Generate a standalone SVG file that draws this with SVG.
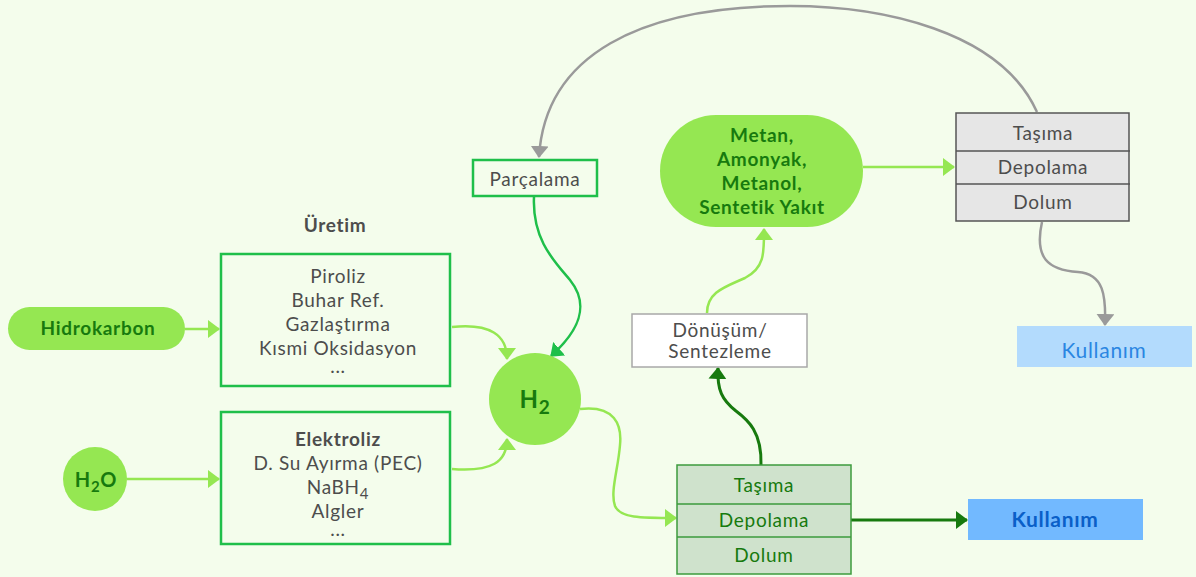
<svg xmlns="http://www.w3.org/2000/svg" width="1196" height="577" viewBox="0 0 1196 577">
<style>
text{font-family:Lato,"Open Sans","Liberation Sans",sans-serif;text-anchor:middle;letter-spacing:0.7px;font-size:19px}
.t{fill:#4d4d4d}
.b{font-weight:bold}
.dg{fill:#177a0e}
.gbox{fill:#f4fdec;stroke:#1fbf4a;stroke-width:2.5}
.lg{fill:none;stroke:#95e752;stroke-width:2.5}
.mg{fill:none;stroke:#1fbf4a;stroke-width:2.5}
.dk{fill:none;stroke:#177a0e;stroke-width:3}
.gr{fill:none;stroke:#9a9a9a;stroke-width:2.5}
</style>
<defs>
<marker id="aL" viewBox="0 0 12 18" refX="11" refY="9" markerWidth="12" markerHeight="18" orient="auto" markerUnits="userSpaceOnUse"><path d="M0,0L12,9L0,18z" fill="#95e752"/></marker>
<marker id="aM" viewBox="0 0 12 18" refX="11" refY="9" markerWidth="12" markerHeight="18" orient="auto" markerUnits="userSpaceOnUse"><path d="M0,0L12,9L0,18z" fill="#1fbf4a"/></marker>
<marker id="aD" viewBox="0 0 12 18" refX="11" refY="9" markerWidth="12" markerHeight="18" orient="auto" markerUnits="userSpaceOnUse"><path d="M0,0L12,9L0,18z" fill="#177a0e"/></marker>
<marker id="aG" viewBox="0 0 12 18" refX="11" refY="9" markerWidth="12" markerHeight="18" orient="auto" markerUnits="userSpaceOnUse"><path d="M0,0L12,9L0,18z" fill="#9a9a9a"/></marker>
</defs>
<rect width="1196" height="577" fill="#f4fdec"/>

<g id="connectors">
<path class="lg" d="M185,329H219" marker-end="url(#aL)"/>
<path class="lg" d="M127,479H219" marker-end="url(#aL)"/>
<path class="lg" d="M452,327C490,323 507,335 507,359" marker-end="url(#aL)"/>
<path class="lg" d="M452,469C492,472 507,462 507,439" marker-end="url(#aL)"/>
<path class="mg" d="M534,197C532,240 555,262 570,280C590,305 580,330 551,356" marker-end="url(#aM)"/>
<path class="gr" d="M1037,112C1000,30 880,6 790,6C640,6 545,55 539,157" marker-end="url(#aG)"/>
<path class="gr" d="M1042,222C1034,258 1048,270 1078,272C1104,274 1106,296 1105,325" marker-end="url(#aG)"/>
<path class="lg" d="M863,167H954" marker-end="url(#aL)"/>
<path class="lg" d="M707,313C707,292 725,287 745,278C765,268 764,252 764,229" marker-end="url(#aL)"/>
<path class="dk" d="M761,465C762,432 748,420 736,411C722,400 717,390 718,368" marker-end="url(#aD)"/>
<path class="lg" d="M580,409C615,405 622,425 620,445C618,470 610,492 615,506C620,518 640,518 676,518" marker-end="url(#aL)"/>
<path class="dk" d="M851,520H967" marker-end="url(#aD)"/>
</g>

<g id="hidrokarbon">
<rect x="8" y="307" width="177" height="43" rx="21.5" fill="#95e752"/>
<text x="98" y="335" class="b dg">Hidrokarbon</text>
</g>

<g id="h2o">
<circle cx="95" cy="479" r="32" fill="#95e752"/>
<text x="96" y="487" class="b dg" style="font-size:20px">H<tspan dy="5" style="font-size:15px">2</tspan><tspan dy="-5">O</tspan></text>
</g>

<g id="uretim-label">
<text x="335" y="232" class="t b">Üretim</text>
</g>

<g id="uretim-box">
<rect class="gbox" x="221" y="254" width="229" height="132"/>
<text class="t" x="338" y="283">Piroliz</text>
<text class="t" x="338" y="307">Buhar Ref.</text>
<text class="t" x="338" y="331">Gazlaştırma</text>
<text class="t" x="338" y="355">Kısmi Oksidasyon</text>
<text class="t" x="338" y="373">...</text>
</g>

<g id="elektroliz-box">
<rect class="gbox" x="221" y="412" width="229" height="132"/>
<text class="t b" x="338" y="446">Elektroliz</text>
<text class="t" x="338" y="470">D. Su Ayırma (PEC)</text>
<text class="t" x="338" y="494">NaBH<tspan dy="5" style="font-size:15px">4</tspan></text>
<text class="t" x="338" y="518">Algler</text>
<text class="t" x="338" y="536">...</text>
</g>

<g id="h2">
<circle cx="535" cy="399" r="46" fill="#95e752"/>
<text x="535" y="408" class="b dg" style="font-size:24px">H<tspan dy="6" style="font-size:19px">2</tspan></text>
</g>

<g id="parcalama">
<rect class="gbox" x="473" y="160" width="124" height="36"/>
<text class="t" x="535" y="186">Parçalama</text>
</g>

<g id="metan">
<rect x="660" y="115" width="203" height="112" rx="56" fill="#95e752"/>
<text class="b dg" x="762" y="142">Metan,</text>
<text class="b dg" x="762" y="166">Amonyak,</text>
<text class="b dg" x="762" y="190">Metanol,</text>
<text class="b dg" x="762" y="214">Sentetik Yakıt</text>
</g>

<g id="donusum">
<rect x="632" y="314" width="175" height="53" fill="#ffffff" stroke="#a8a8a8" stroke-width="1.5"/>
<text class="t" x="720" y="337">Dönüşüm/</text>
<text class="t" x="720" y="358">Sentezleme</text>
</g>

<g id="gray-box">
<rect x="956" y="113" width="173" height="108" fill="#e6e6e6" stroke="#555555" stroke-width="1.5"/>
<path d="M956,151H1130M956,184H1130" stroke="#555555" stroke-width="1.5"/>
<text class="t" x="1043" y="140">Taşıma</text>
<text class="t" x="1043" y="174">Depolama</text>
<text class="t" x="1043" y="209">Dolum</text>
</g>

<g id="kullanim-light">
<rect x="1017" y="326" width="175" height="41" fill="#b3dbfd"/>
<text x="1104" y="358" style="font-size:21px;fill:#2a86e2">Kullanım</text>
</g>

<g id="green-box">
<rect x="677" y="465" width="174" height="109" fill="#cfe2cc" stroke="#3d9b3d" stroke-width="1.5"/>
<path d="M677,504H851M677,537H851" stroke="#3d9b3d" stroke-width="1.5"/>
<text class="dg" x="764" y="492">Taşıma</text>
<text class="dg" x="764" y="527">Depolama</text>
<text class="dg" x="764" y="562">Dolum</text>
</g>

<g id="kullanim-dark">
<rect x="968" y="499" width="175" height="41" fill="#72b9ff"/>
<text x="1055" y="527" class="b" style="font-size:21px;fill:#0a5fc8">Kullanım</text>
</g>
</svg>
